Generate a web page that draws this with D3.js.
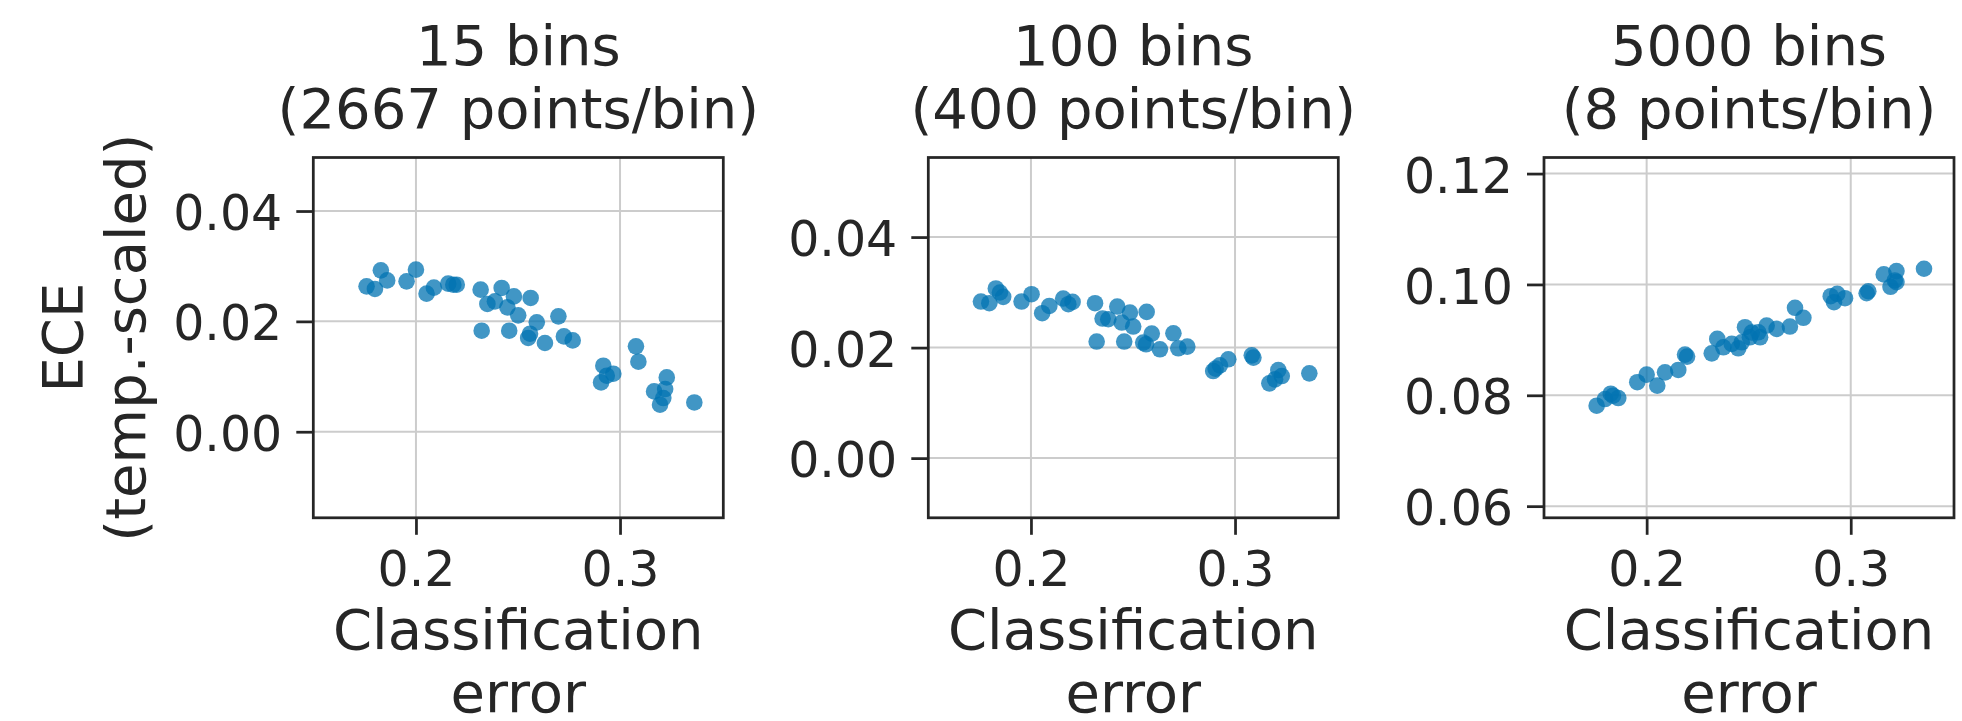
<!DOCTYPE html>
<html>
<head>
<meta charset="utf-8">
<script src="https://cdn.jsdelivr.net/npm/d3@7"></script>
<style>
  html, body { margin: 0; padding: 0; background: #fff; }
  svg { display: block; }
  text { font-family: "DejaVu Sans", sans-serif; fill: #262626; }
</style>
</head>
<body>
<svg id="chart" width="1962" height="721"></svg>
<script>
// ---- Data ----
const panelTitles = [
  ["15 bins", "(2667 points/bin)"],
  ["100 bins", "(400 points/bin)"],
  ["5000 bins", "(8 points/bin)"]
];
const xTicks = [0.2, 0.3];
const yTicks15 = [0.00, 0.02, 0.04];
const yTicks100 = [0.00, 0.02, 0.04];
const yTicks5000 = [0.06, 0.08, 0.10, 0.12];
const xDomain = [0.1497, 0.3506];
const yDomain15 = [-0.0156, 0.0497];
const yDomain100 = [-0.0108, 0.0544];
const yDomain5000 = [0.0579, 0.1229];

const err15 = [0.1758,0.1799,0.1828,0.1859,0.1954,0.2000,0.2052,0.2088,0.2158,0.2183,
               0.2200,0.2317,0.2420,0.2350,0.2387,0.2480,0.2448,0.2562,0.2501,0.2322,
               0.2457,0.2592,0.2550,0.2559,0.2632,0.2698,0.2725,0.2768,0.2918,0.2907,
               0.2935,0.2967,0.3078,0.3090,0.3229,0.3221,0.3167,0.3212,0.3196,0.3364];
const ece15 = [0.02635,0.02587,0.02925,0.02743,0.02725,0.02937,0.02502,0.02611,0.02684,0.02665,
               0.02665,0.02575,0.02606,0.02316,0.02363,0.02453,0.02254,0.02424,0.02109,0.01831,
               0.01831,0.01982,0.01699,0.01777,0.01608,0.02091,0.01728,0.01655,0.01197,0.00894,
               0.01015,0.01052,0.01547,0.01269,0.00985,0.00774,0.00731,0.00611,0.00490,0.00531];

const err100 = [0.1755,0.1796,0.1828,0.1864,0.1848,0.1954,0.2003,0.2055,0.2090,0.2158,
                0.2183,0.2204,0.2314,0.2423,0.2485,0.2567,0.2351,0.2379,0.2445,0.2501,
                0.2322,0.2457,0.2592,0.2550,0.2632,0.2698,0.2722,0.2766,0.2905,0.2926,
                0.2967,0.3082,0.3090,0.3212,0.3229,0.3168,0.3196,0.3364,0.2893,0.2564];
const ece100 = [0.02834,0.02803,0.03070,0.02918,0.02997,0.02834,0.02966,0.02622,0.02754,0.02888,
                0.02785,0.02827,0.02803,0.02743,0.02635,0.02646,0.02526,0.02513,0.02453,0.02381,
                0.02109,0.02109,0.02254,0.02091,0.01969,0.02259,0.01987,0.02018,0.01619,0.01679,
                0.01788,0.01860,0.01819,0.01594,0.01485,0.01353,0.01425,0.01534,0.01576,0.02060];

const err5000 = [0.1755,0.1796,0.1824,0.1861,0.1835,0.1954,0.2000,0.2052,0.2090,0.2155,
                 0.2188,0.2198,0.2319,0.2346,0.2376,0.2417,0.2449,0.2466,0.2482,0.2506,
                 0.2547,0.2556,0.2588,0.2637,0.2702,0.2727,0.2768,0.2902,0.2918,0.2934,
                 0.2972,0.3078,0.3086,0.3162,0.3224,0.3216,0.3195,0.3224,0.3359,0.2515];
const ece5000 = [0.07812,0.07933,0.08029,0.07951,0.07993,0.08236,0.08373,0.08174,0.08414,0.08457,
                 0.08734,0.08698,0.08757,0.09017,0.08866,0.08927,0.08848,0.08956,0.09228,0.09047,
                 0.09137,0.09047,0.09259,0.09199,0.09241,0.09579,0.09398,0.09788,0.09679,0.09831,
                 0.09751,0.09841,0.09877,0.10181,0.10241,0.10072,0.09958,0.10042,0.10283,0.09132];

const xLabelLines = ["Classification", "error"];
const yLabelLines = ["ECE", "(temp.-scaled)"];

// ---- Layout ----
const svg = d3.select("#chart");
const panelLefts = [313.3, 928.3, 1544];
const panelTop = 157.5, panelW = 410, panelH = 360.3;
const ink = "#262626";
const fontTitle = 56, fontTick = 49;

const panels = [
  {err: err15, ece: ece15, yDomain: yDomain15, yTicks: yTicks15, title: panelTitles[0]},
  {err: err100, ece: ece100, yDomain: yDomain100, yTicks: yTicks100, title: panelTitles[1]},
  {err: err5000, ece: ece5000, yDomain: yDomain5000, yTicks: yTicks5000, title: panelTitles[2]}
];

panels.forEach((p, i) => {
  const left = panelLefts[i];
  const g = svg.append("g").attr("transform", `translate(${left},${panelTop})`);
  const x = d3.scaleLinear().domain(xDomain).range([0, panelW]);
  const y = d3.scaleLinear().domain(p.yDomain).range([panelH, 0]);

  // grid
  g.append("g").selectAll("line.gx").data(xTicks).join("line")
    .attr("x1", d => x(d)).attr("x2", d => x(d)).attr("y1", 0).attr("y2", panelH)
    .attr("stroke", "#cccccc").attr("stroke-width", 2);
  g.append("g").selectAll("line.gy").data(p.yTicks).join("line")
    .attr("y1", d => y(d)).attr("y2", d => y(d)).attr("x1", 0).attr("x2", panelW)
    .attr("stroke", "#cccccc").attr("stroke-width", 2);

  // points
  g.append("g").selectAll("circle").data(p.err.map((e, k) => [e, p.ece[k]])).join("circle")
    .attr("cx", d => x(d[0])).attr("cy", d => y(d[1])).attr("r", 8.3)
    .attr("fill", "#0173B2").attr("fill-opacity", 0.75);

  // axes
  const xAxis = d3.axisBottom(x).tickValues(xTicks).tickFormat(d3.format(".1f"))
    .tickSize(17).tickPadding(14);
  const gx = g.append("g").attr("transform", `translate(0,${panelH})`).call(xAxis);
  const yAxis = d3.axisLeft(y).tickValues(p.yTicks).tickFormat(d3.format(".2f"))
    .tickSize(17).tickPadding(14);
  const gy = g.append("g").call(yAxis);
  [gx, gy].forEach(a => {
    a.select(".domain").remove();
    a.selectAll(".tick line").attr("stroke", ink).attr("stroke-width", 2.75);
    a.selectAll(".tick text").attr("fill", ink).style("font-size", fontTick + "px")
      .style("font-family", "DejaVu Sans, sans-serif");
  });
  gx.selectAll(".tick text").attr("dy", null).attr("y", 68.5 - 0).attr("dominant-baseline", "auto");
  gy.selectAll(".tick text").attr("dy", "0.38em");

  // spines
  g.append("rect").attr("x", 0).attr("y", 0).attr("width", panelW).attr("height", panelH)
    .attr("fill", "none").attr("stroke", ink).attr("stroke-width", 2.75);

  // title
  const cx = panelW / 2;
  p.title.forEach((t, k) => {
    g.append("text").attr("x", cx).attr("y", 65 - panelTop + k * 63)
      .attr("text-anchor", "middle").style("font-size", fontTitle + "px").text(t);
  });

  // x label
  xLabelLines.forEach((t, k) => {
    g.append("text").attr("x", cx).attr("y", 649 - panelTop + k * 63)
      .attr("text-anchor", "middle").style("font-size", fontTitle + "px").text(t);
  });
});

// y label (first panel only)
const yCenter = panelTop + panelH / 2;
yLabelLines.forEach((t, k) => {
  svg.append("text")
    .attr("transform", `translate(${81.7 + k * 63},${yCenter}) rotate(-90)`)
    .attr("text-anchor", "middle").style("font-size", fontTitle + "px").text(t);
});
</script>
</body>
</html>
